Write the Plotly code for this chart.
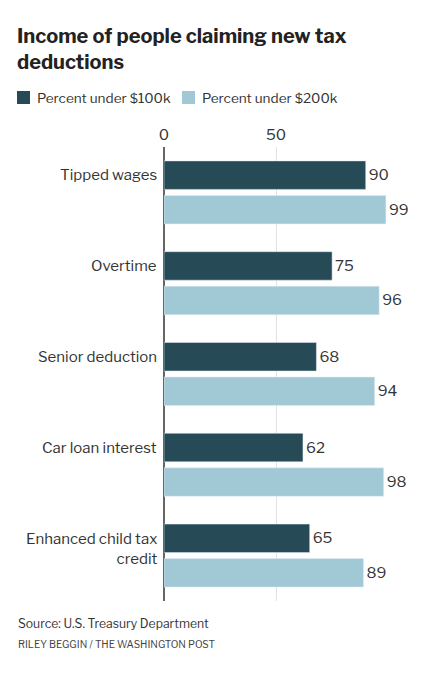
import plotly.graph_objects as go

# categories and values
categories = ["Tipped wages", "Overtime", "Senior deduction", "Car loan interest",
              "Enhanced child tax<br>credit"]
under_100k = [90, 75, 68, 62, 65]
under_200k = [99, 96, 94, 98, 89]
series_names = ["Percent under $100k", "Percent under $200k"]
tick_vals = [0, 50]

dark = "#264b56"
light = "#a1c9d5"
font_family = "Libre Franklin, Roboto, Arial, sans-serif"

# page body has an 8px margin, so the figure is drawn 8px in from the corner
OFF = 8
W, H = 427 - OFF, 680 - OFF
ml, mr, mt, mb = 156, 3, 139, 79
pw, ph = W - ml - mr, H - mt - mb


def px_x(px):
    # screen pixel column -> paper x
    return (px - OFF - ml) / pw


def px_y(py):
    # screen pixel row -> paper y
    return (H - mb - (py - OFF)) / ph


fig = go.Figure()
for vals, name, col in [(under_100k, series_names[0], dark),
                        (under_200k, series_names[1], light)]:
    fig.add_trace(go.Bar(
        y=categories, x=vals, orientation="h",
        name=name, marker_color=col,
        text=vals, textposition="outside", cliponaxis=False,
        textfont=dict(size=15, color="#333333")))

fig.update_layout(
    width=W, height=H,
    margin=dict(l=ml, r=mr, t=mt, b=mb, autoexpand=False),
    paper_bgcolor="white", plot_bgcolor="white",
    font=dict(family=font_family, color="#333333"),
    barmode="group", bargap=0.24, bargroupgap=0.174,
    title=dict(text="<b>Income of people claiming new tax<br>deductions</b>",
               x=(17 - OFF) / W, xanchor="left", xref="container",
               y=1 - 35 / H, yanchor="top", yref="container",
               font=dict(size=20, color="#222222")),
    showlegend=False,
)
fig.update_xaxes(side="top", range=[0, 116], tickvals=tick_vals,
                 showgrid=True, gridcolor="#e2e2e2", gridwidth=1,
                 zeroline=True, zerolinecolor="#666666", zerolinewidth=1.5,
                 tickfont=dict(size=15, color="#333333"), ticks="",
                 ticklabelstandoff=3, fixedrange=True)
fig.update_yaxes(categoryorder="array", categoryarray=categories, autorange="reversed",
                 showticklabels=False, ticks="", showgrid=False)

# category labels sit level with the first bar of each pair
for cat in categories:
    fig.add_annotation(text=cat, x=0, xref="paper", xanchor="right", xshift=-5,
                       y=cat, yref="y", yanchor="top", yshift=28,
                       align="right", showarrow=False,
                       font=dict(size=15, color="#333333"))

# legend drawn by hand: swatch + label
legend_x = [17, 182]
for lx, name, col in zip(legend_x, series_names, [dark, light]):
    fig.add_shape(type="rect", xref="paper", yref="paper",
                  x0=px_x(lx), x1=px_x(lx + 13), y0=px_y(91), y1=px_y(104),
                  fillcolor=col, line_width=0)
    fig.add_annotation(text=name, x=px_x(lx + 18), xref="paper", xanchor="left",
                       y=px_y(97.5), yref="paper", yanchor="middle",
                       showarrow=False, font=dict(size=13.6, color="#333333"))

fig.add_annotation(text="Source: U.S. Treasury Department",
                   x=px_x(16), xref="paper", xanchor="left",
                   y=px_y(623), yref="paper", yanchor="middle",
                   showarrow=False, font=dict(size=12.2, color="#333333"))
fig.add_annotation(text="RILEY BEGGIN / THE WASHINGTON POST",
                   x=px_x(16), xref="paper", xanchor="left",
                   y=px_y(644), yref="paper", yanchor="middle",
                   showarrow=False, font=dict(size=10, color="#444444"))

fig.write_html("out.html")
